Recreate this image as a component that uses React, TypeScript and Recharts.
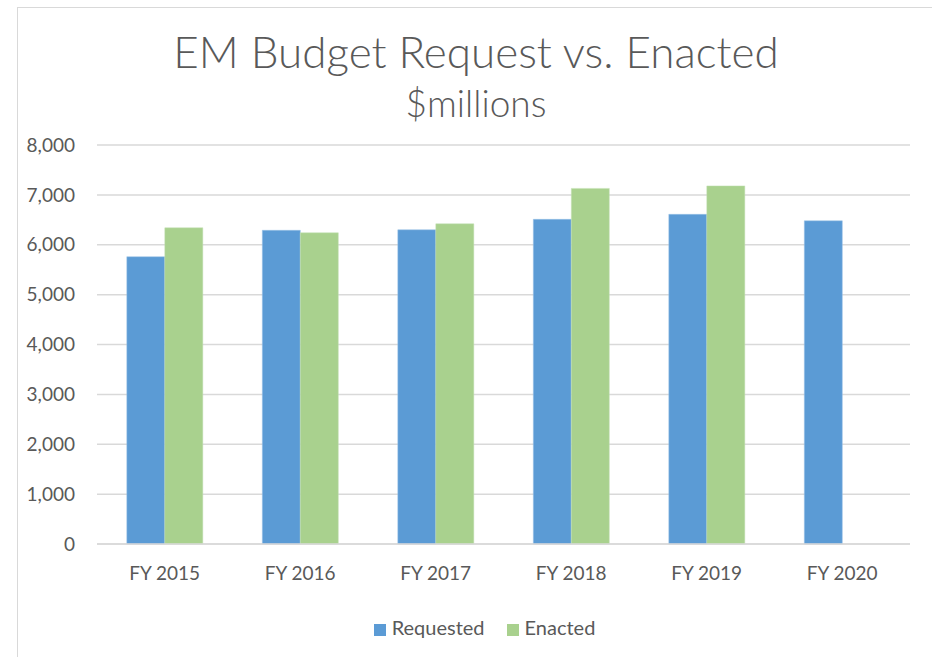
import { Bar, BarChart, CartesianGrid, Legend, XAxis, YAxis } from "recharts"

const years = ["FY 2015", "FY 2016", "FY 2017", "FY 2018", "FY 2019", "FY 2020"]
const requested = [5760, 6290, 6300, 6510, 6610, 6480]
const enacted: (number | null)[] = [6340, 6240, 6420, 7130, 7180, null]
const yTicks = [0, 1000, 2000, 3000, 4000, 5000, 6000, 7000, 8000]
const seriesOrder = ["Requested", "Enacted"]

const data = years.map((name, i) => ({ name, requested: requested[i], enacted: enacted[i] }))

const font = "Lato, 'Open Sans', sans-serif"
const grey = "#595959"

export default function App() {
  return (
    <div style={{ position: "absolute", left: 0, top: 0, width: 932, height: 657, background: "#fff", fontFamily: font, overflow: "hidden" }}>
      <div
        style={{
          position: "absolute",
          left: 17,
          top: 7,
          width: 932,
          height: 700,
          borderLeft: "1.5px solid #d9d9d9",
          borderTop: "1.5px solid #d9d9d9",
        }}
      />
      <div style={{ position: "absolute", left: 0, width: 952, top: 25, lineHeight: 1.2, textAlign: "center", fontSize: 44, fontWeight: 300, color: grey }}>
        EM Budget Request vs. Enacted
      </div>
      <div style={{ position: "absolute", left: 0, width: 952, top: 81, lineHeight: 1.2, textAlign: "center", fontSize: 37, fontWeight: 300, color: grey }}>
        $millions
      </div>
      <div style={{ position: "absolute", left: 0, top: 0 }}>
        <BarChart
          width={932}
          height={657}
          data={data}
          margin={{ top: 145, right: 22, bottom: 59, left: 17 }}
          barCategoryGap="22%"
          barGap={0}
        >
          <CartesianGrid vertical={false} stroke="#d9d9d9" strokeWidth={1.5} />
          <XAxis
            dataKey="name"
            tickLine={false}
            axisLine={{ stroke: "#d9d9d9", strokeWidth: 1.5 }}
            tick={{ fill: grey, fontSize: 19, fontFamily: font }}
            tickMargin={17}
          />
          <YAxis
            width={80}
            domain={[0, 8000]}
            ticks={yTicks}
            tickFormatter={(v: number) => v.toLocaleString("en-US")}
            axisLine={false}
            tickLine={false}
            tickSize={0}
            tickMargin={22}
            tick={{ fill: grey, fontSize: 19, fontFamily: font }}
          />
          <Legend
            verticalAlign="bottom"
            iconType="square"
            iconSize={12}
            itemSorter={(item: any) => seriesOrder.indexOf(item.value)}
            wrapperStyle={{ bottom: 18, left: 49, fontSize: 20, fontFamily: font }}
            formatter={(value: string) => <span style={{ color: grey, marginLeft: 2, marginRight: 12 }}>{value}</span>}
          />
          <Bar dataKey="requested" name="Requested" fill="#5b9bd5" stroke="#9dc3e6" strokeWidth={0.5} isAnimationActive={false} />
          <Bar dataKey="enacted" name="Enacted" fill="#a9d18e" stroke="#c5e0b4" strokeWidth={0.5} isAnimationActive={false} />
        </BarChart>
      </div>
    </div>
  )
}
